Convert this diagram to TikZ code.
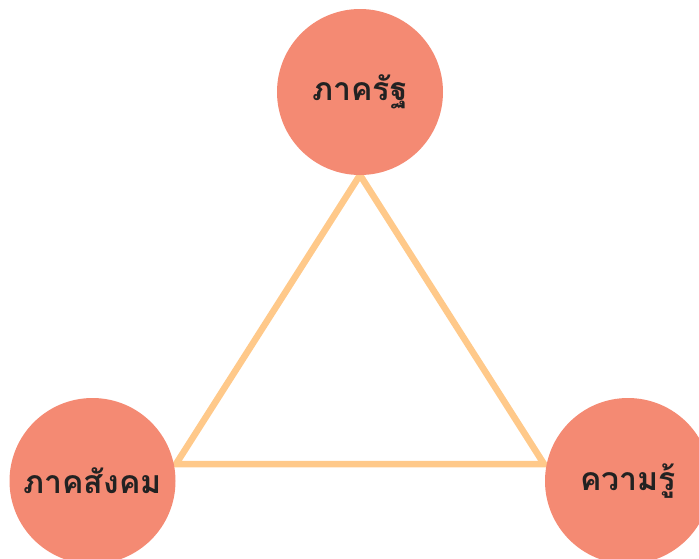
\documentclass[tikz,border=0pt]{standalone}
\usepackage{fontspec}
\newfontfamily\thaifont[Script=Thai]{Loma}
\definecolor{circ}{HTML}{F48A73}
\definecolor{tri}{HTML}{FFC98A}
\definecolor{txt}{HTML}{222222}
\begin{document}
\begin{tikzpicture}[x=1pt,y=-1pt,
  hub/.style={circle,fill=circ,minimum size=166pt,inner sep=0pt,text=txt,font=\thaifont\bfseries\fontsize{32}{36}\selectfont},
  edge/.style={draw=tri,line width=6.5pt,line join=miter}]
\useasboundingbox (0,0) rectangle (699,558);
\coordinate (a) at (360,175);
\coordinate (b) at (176,464);
\coordinate (c) at (544,464);
\draw[edge] (a) -- (b) -- (c) -- cycle;
\node[hub] (top) at (360,92) {ภาครัฐ};
\node[hub] (left) at (92.5,481) {ภาคสังคม};
\node[hub] (right) at (628,481) {ความรู้};
\end{tikzpicture}
\end{document}
